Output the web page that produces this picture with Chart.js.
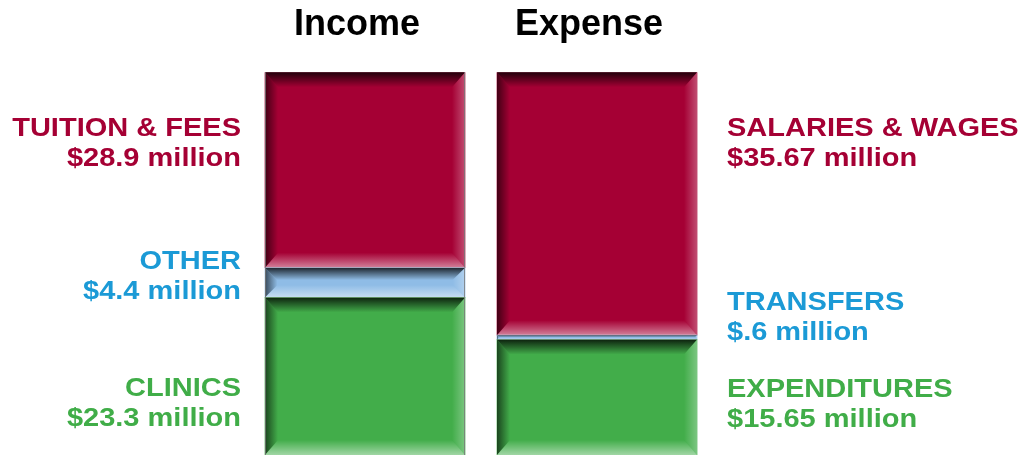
<!DOCTYPE html>
<html>
<head>
<meta charset="utf-8">
<script src="https://cdn.jsdelivr.net/npm/chart.js@4"></script>
<style>
  html, body { margin: 0; padding: 0; background: #fff; }
  #wrap { width: 1023px; height: 455px; }
</style>
</head>
<body>
<div id="wrap"><canvas id="budget" width="1023" height="455"></canvas></div>
<script>
// data (bottom to top)
const categories = ['Income', 'Expense'];
const incomeNames = ['CLINICS', 'OTHER', 'TUITION & FEES'];
const incomeValues = [23.3, 4.4, 28.9];
const expenseNames = ['EXPENDITURES', 'TRANSFERS', 'SALARIES & WAGES'];
const expenseValues = [15.65, 0.6, 35.67];

const layerColors = ['#42ad4a', '#8fbce6', '#a50034'];
const textColors = ['#40ad48', '#1b9ad6', '#a50034'];
// first-line baseline offset from segment middle, per bar / layer
const labelShift = [[20, -14, -34], [0, -27, -68]];

function pct(values) {
  const total = values.reduce((a, b) => a + b, 0);
  return values.map(v => v / total * 100);
}
function money(v) {
  return '$' + String(v).replace(/^0\./, '.') + ' million';
}

const incomePct = pct(incomeValues);
const expensePct = pct(expenseValues);

const datasets = [];
for (let i = 0; i < 3; i++) {
  datasets.push({
    label: incomeNames[i] + ' / ' + expenseNames[i],
    data: [incomePct[i], expensePct[i]],
    backgroundColor: layerColors[i],
    borderWidth: 0,
    barThickness: 200
  });
}

function bevel(ctx, x0, y0, x1, y1) {
  const h = y1 - y0;
  const b = Math.min(15, h / 2.4);
  const bs = Math.min(13, h / 2.4);
  let g;
  // left (dark)
  g = ctx.createLinearGradient(x0, 0, x0 + bs, 0);
  g.addColorStop(0, 'rgba(0,0,0,0.6)');
  g.addColorStop(1, 'rgba(0,0,0,0)');
  ctx.fillStyle = g;
  ctx.beginPath();
  ctx.moveTo(x0, y0); ctx.lineTo(x0 + bs, y0 + b); ctx.lineTo(x0 + bs, y1 - b); ctx.lineTo(x0, y1);
  ctx.closePath(); ctx.fill();
  // right (light)
  g = ctx.createLinearGradient(x1 - bs, 0, x1, 0);
  g.addColorStop(0, 'rgba(255,255,255,0)');
  g.addColorStop(1, 'rgba(255,255,255,0.3)');
  ctx.fillStyle = g;
  ctx.beginPath();
  ctx.moveTo(x1, y0); ctx.lineTo(x1 - bs, y0 + b); ctx.lineTo(x1 - bs, y1 - b); ctx.lineTo(x1, y1);
  ctx.closePath(); ctx.fill();
  // top (dark)
  g = ctx.createLinearGradient(0, y0, 0, y0 + b);
  g.addColorStop(0, 'rgba(0,0,0,0.8)');
  g.addColorStop(1, 'rgba(0,0,0,0)');
  ctx.fillStyle = g;
  ctx.beginPath();
  ctx.moveTo(x0, y0); ctx.lineTo(x1, y0); ctx.lineTo(x1 - bs, y0 + b); ctx.lineTo(x0 + bs, y0 + b);
  ctx.closePath(); ctx.fill();
  // bottom (light)
  g = ctx.createLinearGradient(0, y1 - b, 0, y1);
  g.addColorStop(0, 'rgba(255,255,255,0)');
  g.addColorStop(1, 'rgba(255,255,255,0.5)');
  ctx.fillStyle = g;
  ctx.beginPath();
  ctx.moveTo(x0, y1); ctx.lineTo(x1, y1); ctx.lineTo(x1 - bs, y1 - b); ctx.lineTo(x0 + bs, y1 - b);
  ctx.closePath(); ctx.fill();
}

const segmentDecor = {
  id: 'segmentDecor',
  afterDatasetsDraw(chart) {
    const ctx = chart.ctx;
    chart.data.datasets.forEach((ds, di) => {
      const meta = chart.getDatasetMeta(di);
      meta.data.forEach((bar, bi) => {
        const p = bar.getProps(['x', 'y', 'base', 'width'], true);
        const x0 = p.x - p.width / 2, x1 = p.x + p.width / 2;
        const y0 = Math.min(p.y, p.base), y1 = Math.max(p.y, p.base);
        ctx.save();
        bevel(ctx, x0, y0, x1, y1);
        if (bi === 0) {
          ctx.strokeStyle = 'rgba(120,120,120,0.8)';
          ctx.lineWidth = 1;
          ctx.beginPath();
          ctx.moveTo(x0 + 0.5, y0); ctx.lineTo(x0 + 0.5, y1);
          ctx.moveTo(x1 - 0.5, y0); ctx.lineTo(x1 - 0.5, y1);
          ctx.stroke();
        }

        // labels beside the segment
        const names = bi === 0 ? incomeNames : expenseNames;
        const values = bi === 0 ? incomeValues : expenseValues;
        const mid = (y0 + y1) / 2;
        const base1 = mid + labelShift[bi][di];
        const tx = bi === 0 ? x0 - 24 : x1 + 30;
        ctx.fillStyle = textColors[di];
        ctx.font = 'bold 25px "Liberation Sans", Arial, sans-serif';
        ctx.textAlign = bi === 0 ? 'right' : 'left';
        ctx.textBaseline = 'alphabetic';
        [names[di], money(values[di])].forEach((t, li) => {
          ctx.save();
          ctx.translate(tx, base1 + li * 30);
          ctx.scale(1.16, 1);
          ctx.fillText(t, 0, 0);
          ctx.restore();
        });
        ctx.restore();
      });
    });
  }
};

new Chart(document.getElementById('budget').getContext('2d'), {
  type: 'bar',
  data: {
    labels: categories,
    datasets: datasets
  },
  options: {
    responsive: false,
    animation: false,
    layout: {
      padding: { left: 249, right: 310, top: -23, bottom: 0 }
    },
    plugins: {
      legend: { display: false },
      tooltip: { enabled: false }
    },
    scales: {
      x: {
        position: 'top',
        stacked: true,
        grid: { display: false, drawTicks: false },
        border: { display: false },
        ticks: {
          color: '#000',
          padding: 26,
          labelOffset: -8,
          font: { family: '"Liberation Sans", Arial, sans-serif', size: 36, weight: 'bold' }
        }
      },
      y: {
        stacked: true,
        display: false,
        min: 0,
        max: 100
      }
    }
  },
  plugins: [segmentDecor]
});
</script>
</body>
</html>
